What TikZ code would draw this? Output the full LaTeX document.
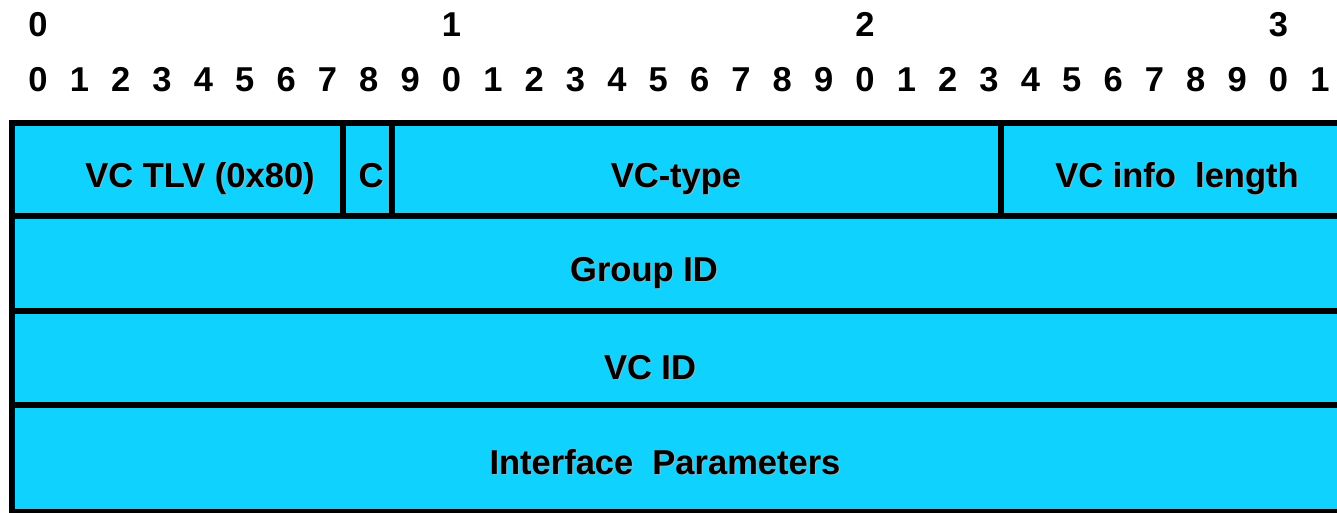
\documentclass[tikz,border=0pt]{standalone}
\usepackage{fontspec}
\setmainfont{Liberation Sans}
\usetikzlibrary{positioning}
\definecolor{field}{HTML}{0FD2FF}
\definecolor{shade}{HTML}{A8A8A8}
\newcommand{\shd}[1]{\makebox[0pt][l]{\hspace{1.3pt}\raisebox{-1.3pt}{\color{shade}#1}}#1}

\begin{document}
\begin{tikzpicture}[
  x=1pt, y=-1pt,
  font=\fontsize{34.5}{40}\selectfont\bfseries,
  bit/.style={anchor=base, inner sep=0pt},
  fieldtext/.style={anchor=base, inner sep=0pt},
  rule/.style={line width=6pt}
]
\useasboundingbox (0,0) rectangle (1337,513);
% bit ruler
\foreach \d/\i in {0/0,1/10,2/20,3/30}
  \node[bit] (tens\i) at (38+41.35*\i,37) {\d};
\foreach \i in {0,...,31}{
  \pgfmathtruncatemacro{\d}{mod(\i,10)}
  \node[bit] (bit\i) at (38+41.35*\i,92) {\d};
}
% header words
\draw[rule, fill=field] (12,123) rectangle (1345,512);
\foreach \y in {216,311,405}
  \draw[rule] (12,\y) -- (1345,\y);
\foreach \x in {343,392,1001}
  \draw[rule] (\x,123) -- (\x,216);

\node[fieldtext] (tlv) at (200,187.5) {\shd{VC TLV (0x80)}};
\node[fieldtext] (cbit) at (371,187.5) {\shd{C}};
\node[fieldtext] (vctype) at (676,187.5) {\shd{VC-type}};
\node[fieldtext] (infolen) at (1177,187.5) {\shd{VC info\ \ length}};
\node[fieldtext] (groupid) at (644,281.5) {\shd{Group ID}};
\node[fieldtext] (vcid) at (650,379.5) {\shd{VC ID}};
\node[fieldtext] (ifparams) at (665,474.5) {\shd{Interface\ \ Parameters}};
\end{tikzpicture}
\end{document}
